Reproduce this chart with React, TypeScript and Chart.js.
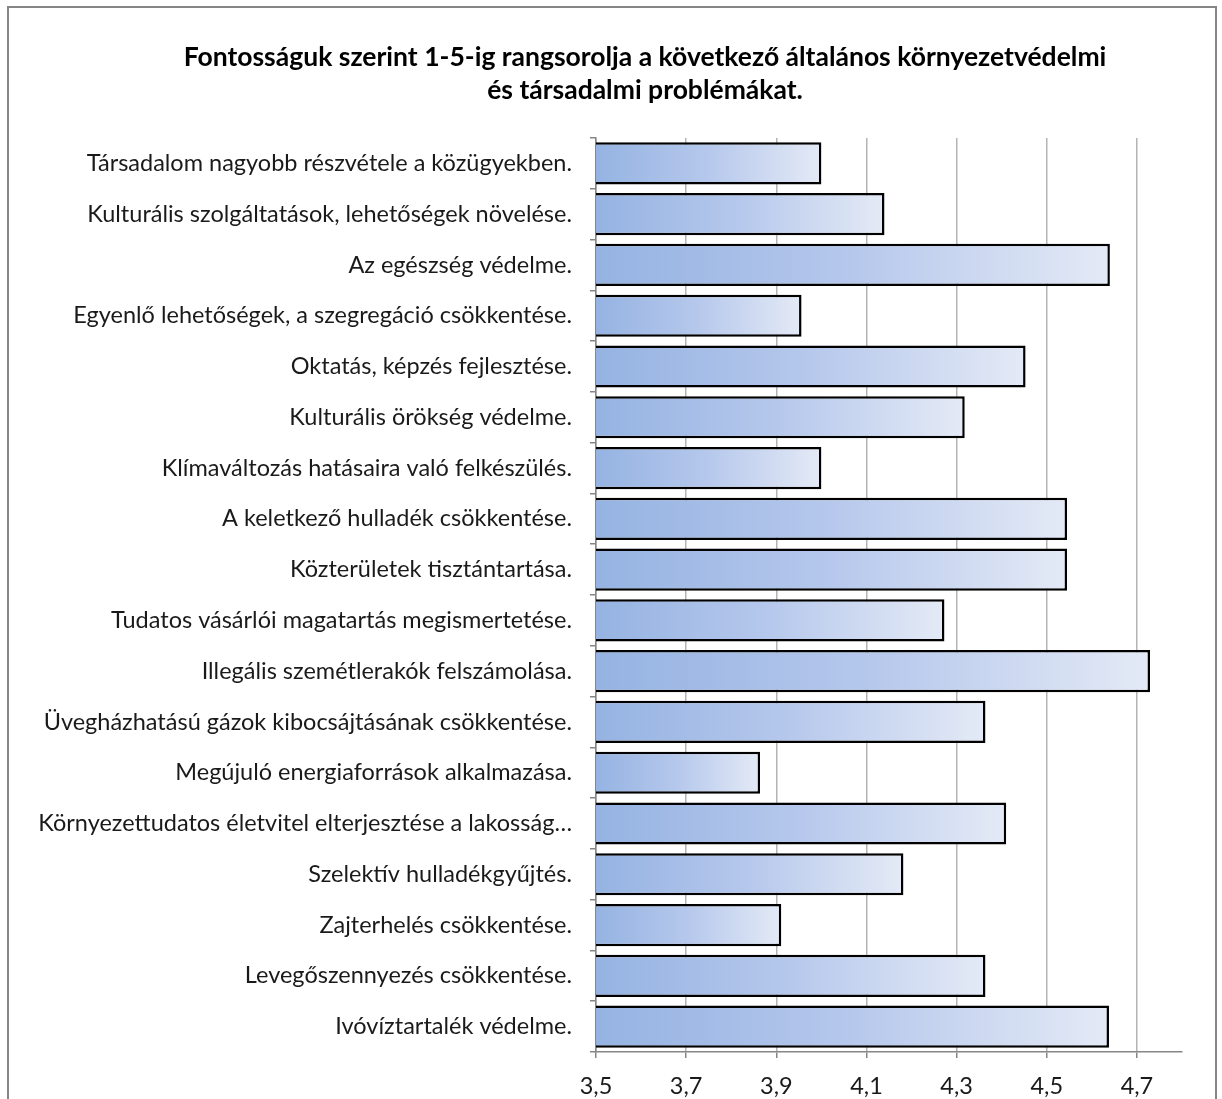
import React, { useEffect, useRef } from 'react';
import { Chart, registerables } from 'chart.js';

Chart.register(...registerables);

const titleLines = [
  'Fontosságuk szerint 1-5-ig rangsorolja a következő általános környezetvédelmi',
  'és társadalmi problémákat.',
];

const categories = [
  'Társadalom nagyobb részvétele a közügyekben.',
  'Kulturális szolgáltatások, lehetőségek növelése.',
  'Az egészség védelme.',
  'Egyenlő lehetőségek, a szegregáció csökkentése.',
  'Oktatás, képzés fejlesztése.',
  'Kulturális örökség védelme.',
  'Klímaváltozás hatásaira való felkészülés.',
  'A keletkező hulladék csökkentése.',
  'Közterületek tisztántartása.',
  'Tudatos vásárlói magatartás megismertetése.',
  'Illegális szemétlerakók felszámolása.',
  'Üvegházhatású gázok kibocsájtásának csökkentése.',
  'Megújuló energiaforrások alkalmazása.',
  'Környezettudatos életvitel elterjesztése a lakosság…',
  'Szelektív hulladékgyűjtés.',
  'Zajterhelés csökkentése.',
  'Levegőszennyezés csökkentése.',
  'Ivóvíztartalék védelme.',
];

const values = [
  4.0, 4.14, 4.64, 3.956, 4.453, 4.318, 4.0, 4.545, 4.545, 4.273, 4.729, 4.364, 3.864, 4.41, 4.182,
  3.911, 4.364, 4.638,
];

const xTickValues = [3.5, 3.7, 3.9, 4.1, 4.3, 4.5, 4.7];
const xTickLabels = ['3,5', '3,7', '3,9', '4,1', '4,3', '4,5', '4,7'];
const xMin = 3.5;
const xMax = 4.8;

export default function App() {
  const ref = useRef<HTMLCanvasElement>(null);

  useEffect(() => {
    const canvas = ref.current!;
    const framePlugin = {
      id: 'frameAndTitle',
      beforeDraw(chart: any) {
        const ctx = chart.ctx;
        ctx.save();
        ctx.fillStyle = '#ffffff';
        ctx.fillRect(0, 0, chart.width, chart.height);
        ctx.strokeStyle = '#868686';
        ctx.lineWidth = 2;
        ctx.strokeRect(8, 7, 1208, 1300);
        ctx.restore();
      },
      afterDraw(chart: any) {
        const ctx = chart.ctx;
        ctx.save();
        ctx.fillStyle = '#000000';
        ctx.font = 'bold 26.5px Lato';
        ctx.textAlign = 'center';
        ctx.textBaseline = 'middle';
        ctx.fillText(titleLines[0], 645, 57);
        ctx.fillText(titleLines[1], 645, 90);
        ctx.restore();
      },
    };

    const labelFont = { family: 'Lato', size: 23.5 };

    const chart = new Chart(canvas, {
      type: 'bar',
      data: {
        labels: categories,
        datasets: [
          {
            data: values,
            backgroundColor: (c: any) => {
              const ch = c.chart;
              const xs = ch.scales?.x;
              if (!xs || c.dataIndex === undefined || !ch.chartArea) return '#b6c8ec';
              const x0 = xs.getPixelForValue(xMin);
              const x1 = xs.getPixelForValue(values[c.dataIndex]);
              if (!isFinite(x0) || !isFinite(x1) || x1 <= x0) return '#b6c8ec';
              const g = ch.ctx.createLinearGradient(x0, 0, x1, 0);
              g.addColorStop(0, '#95b3e2');
              g.addColorStop(0.5, '#b6c8ec');
              g.addColorStop(1, '#e4eaf6');
              return g;
            },
            borderColor: '#000000',
            borderWidth: 2.5,
            borderSkipped: false,
            barPercentage: 0.83,
            categoryPercentage: 1,
          },
        ],
      },
      options: {
        indexAxis: 'y',
        responsive: false,
        animation: false,
        layout: { padding: { top: 138, right: 40, left: 0, bottom: 0 } },
        plugins: {
          legend: { display: false },
          tooltip: { enabled: false },
          title: { display: false },
        },
        scales: {
          x: {
            min: xMin,
            max: xMax,
            afterBuildTicks: (s: any) => {
              s.ticks = xTickValues.map((v) => ({ value: v }));
            },
            afterFit: (s: any) => {
              s.height = 47;
            },
            ticks: {
              callback: (_v: any, i: number) => xTickLabels[i],
              font: labelFont,
              color: '#1a1a1a',
              padding: 14,
            },
            grid: { color: '#b4b4b4', lineWidth: 1.5, tickLength: 6, tickColor: '#868686' },
            border: { color: '#868686', width: 1.5 },
          },
          y: {
            afterFit: (s: any) => {
              s.width = 596;
            },
            ticks: { font: labelFont, color: '#1a1a1a', padding: 18, autoSkip: false },
            grid: { drawOnChartArea: false, offset: true, tickLength: 6, color: '#868686', lineWidth: 1.5 },
            border: { color: '#868686', width: 1.5 },
          },
        },
      },
      plugins: [framePlugin],
    } as any);

    return () => chart.destroy();
  }, []);

  return (
    <div style={{ position: 'fixed', left: 0, top: 0, width: 1222, height: 1099 }}>
      <canvas ref={ref} width={1222} height={1099} style={{ width: 1222, height: 1099, display: 'block' }} />
    </div>
  );
}
